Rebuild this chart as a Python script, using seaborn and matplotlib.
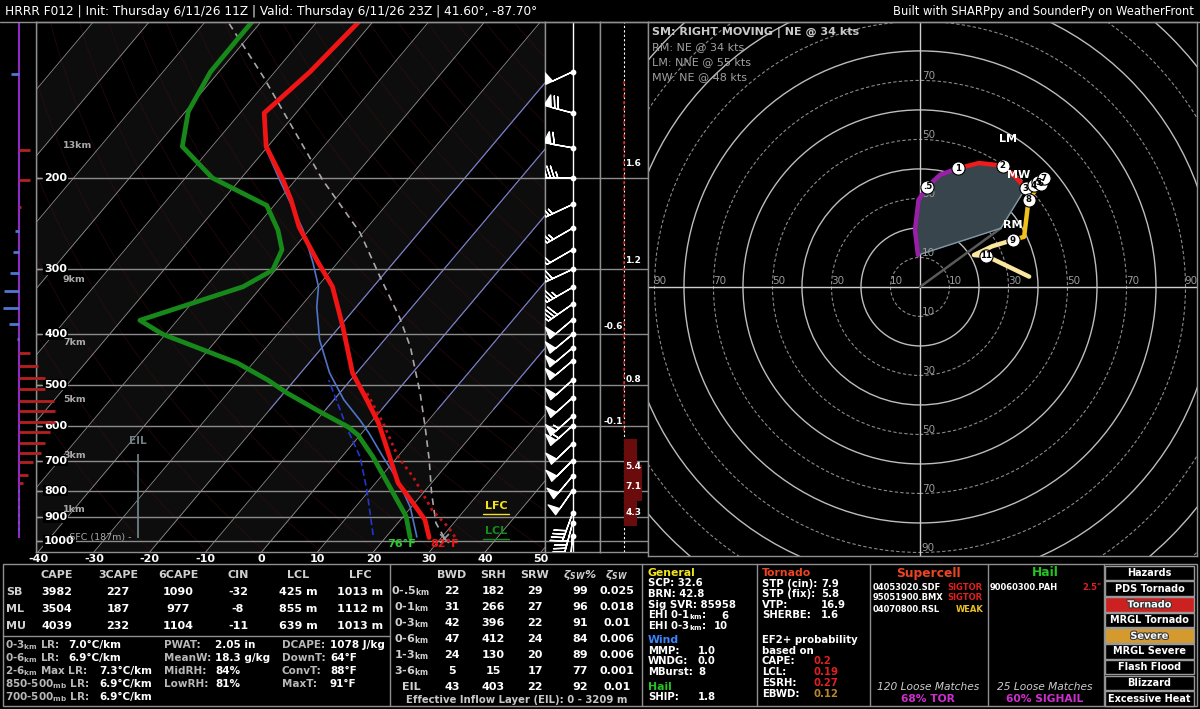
import numpy as np
import pandas as pd
import seaborn as sns
import matplotlib.pyplot as plt
import matplotlib.patheffects as pe
from matplotlib.patches import Rectangle, Circle
from matplotlib.ticker import NullLocator

# ---------------- header ----------------
title_left = "HRRR F012 | Init: Thursday 6/11/26 11Z | Valid: Thursday 6/11/26 23Z | 41.60°, -87.70°"
title_right = "Built with SHARPpy and SounderPy on WeatherFront"

# ---------------- sounding profiles (hPa, degC) ----------------
temp_p = [985, 911, 845, 773, 730, 689, 593, 535, 475, 387, 324, 288, 249, 220, 202, 174, 150, 125, 100]
temp_c = [27.8, 24.4, 19.7, 14.0, 11.3, 8.6, 1.5, -4.1, -10.7, -19.4, -27.3, -34.1, -42.2, -47.9, -52.2,
          -60.3, -65.7, -63.7, -62.5]

dwpt_p = [985, 895, 815, 746, 689, 625, 603, 565, 519, 490, 454, 400, 376, 324, 301, 275, 252, 226, 200,
          174, 149, 125, 107, 100]
dwpt_c = [24.4, 20.4, 15.1, 10.1, 5.6, -0.4, -3.4, -10.5, -19.4, -24.8, -32.9, -50.5, -56.7, -43.3, -40.5,
          -41.9, -45.6, -51.3, -65.2, -75.3, -79.5, -81.5, -81.6, -81.6]

wetb_p = [982, 860, 763, 689, 620, 585, 535, 475, 410, 354, 324, 292, 252, 202, 174]
wetb_c = [25.5, 19.8, 13.5, 7.4, 1.3, -2.3, -8.2, -14.8, -21.6, -27.1, -29.8, -34.3, -41.1, -52.8, -60.5]

ddraft_p = [974, 798, 689, 611, 490]
ddraft_c = [17.4, 9.5, 3.3, -3.0, -13.9]

parcel_p = [985, 923, 808, 698, 603, 519, 423, 371, 310, 255, 202, 153, 128, 101]
parcel_c = [30.5, 26.8, 21.5, 16.1, 10.4, 4.4, -4.3, -10.7, -20.3, -30.5, -45.1, -61.0, -71.2, -85.4]

virt_p = [982, 940, 872, 753, 689, 593, 519]
virt_c = [32.3, 29.6, 24.2, 15.8, 10.1, 2.3, -5.1]

sfc_p = 985
sfc_t_label, sfc_td_label = "82°F", "76°F"
eil_top_p = 680
height_labels = ["1km", "3km", "5km", "7km", "9km", "13km"]
height_p = [871, 686, 533, 414, 314, 173]
press_labels = [200, 300, 400, 500, 600, 700, 800, 900, 1000]

# wind barbs
barb_p = [125, 150, 175, 200, 225, 250, 275, 300, 325, 350, 375, 400, 425, 450, 490, 530, 575, 600,
          650, 700, 750, 800, 885, 925, 980]
barb_dir = [245, 285, 280, 270, 245, 240, 240, 245, 240, 235, 230, 230, 230, 230, 228, 228, 228, 228,
            226, 225, 220, 215, 200, 195, 185]
barb_spd = [50, 70, 60, 45, 25, 25, 20, 30, 35, 40, 50, 50, 50, 50, 50, 50, 55, 55,
            50, 50, 50, 50, 40, 35, 30]

# left strip bars
adv_p = [126, 177, 202, 228, 253, 278, 305, 330, 356, 382, 409, 435, 460, 486, 510, 538, 562, 590,
         617, 648, 677, 705, 746, 773, 800, 830, 860, 890, 920, 950]
adv_v = [-0.77, 1.05, 1.05, 0.2, -0.45, -0.6, -0.87, -1.46, -1.57, -1.05, -0.2, 1.05, 1.9, 2.6, 2.6,
         3.5, 3.6, 3.6, 3.1, 2.6, 2.2, 1.4, 0.9, 0.35, -0.1, -0.15, -0.1, -0.15, -0.1, -0.1]

# narrow value column
nv_p = [188, 289, 387, 488, 590, 720, 787, 883]
nv_val = ["1.6", "1.2", "-0.6", "0.8", "-0.1", "5.4", "7.1", "4.3"]
red_top_p, red_bot_p = 130, 622
dark_p = [650, 675, 700, 725, 750, 775, 800, 825, 850, 875, 900, 925]
dark_v = [1.27, 1.27, 1.27, 1.77, 1.77, 1.77, 1.77, 1.77, 1.27, 1.27, 1.27, 1.27]

# hodograph (km, kt)
hodo_h = [0, 0.15, 0.35, 0.5, 0.75, 1, 1.5, 2, 2.5, 3, 4, 5, 6, 7, 8, 8.5, 9, 10, 10.5, 11, 12]
hodo_u = [-0.7, -1.7, -0.5, 2.5, 6.8, 12.8, 20.0, 28.0, 32.2, 35.8, 38.5, 40.0, 41.0, 41.9, 36.8, 35.3,
          31.5, 24.5, 18.3, 22.5, 37.0]
hodo_v = [10.8, 19.3, 29.5, 34.0, 38.0, 40.2, 42.0, 41.1, 37.4, 33.5, 34.5, 35.5, 35.0, 36.8, 29.5, 17.0,
          15.9, 13.8, 10.8, 10.5, 3.5]
marker_h = [0.5, 1, 2, 3, 4, 5, 6, 7, 8, 9, 11]
marker_txt = [".5", "1", "2", "3", "4", "5", "6", "7", "8", "9", "11"]
rm_uv, lm_uv, mw_uv = (27.4, 19.9), (27.0, 48.0), (36.0, 32.0)
hodo_head = "SM: RIGHT MOVING | NE @ 34 kts"
hodo_info = ["RM: NE @ 34 kts", "LM: NNE @ 55 kts", "MW: NE @ 48 kts"]

# thermo table
thermo_cols = ["CAPE", "3CAPE", "6CAPE", "CIN", "LCL", "LFC"]
thermo_rows = ["SB", "ML", "MU"]
cape = [3982, 3504, 4039]
cape3 = [227, 187, 232]
cape6 = [1090, 977, 1104]
cin = [-32, -8, -11]
lcl_m = [425, 855, 639]
lfc_m = [1013, 1112, 1013]
lr_labels = ["0-3$_{km}$ LR:", "0-6$_{km}$ LR:", "2-6$_{km}$ Max LR:", "850-500$_{mb}$ LR:", "700-500$_{mb}$ LR:"]
lr_vals = ["7.0°C/km", "6.9°C/km", "7.3°C/km", "6.9°C/km", "6.9°C/km"]
mid_labels = ["PWAT:", "MeanW:", "MidRH:", "LowRH:"]
mid_vals = ["2.05 in", "18.3 g/kg", "84%", "81%"]
rt_labels = ["DCAPE:", "DownT:", "ConvT:", "MaxT:"]
rt_vals = ["1078 J/kg", "64°F", "88°F", "91°F"]

# kinematic table
kin_cols = ["BWD", "SRH", "SRW", "ζ$_{SW}$%", "ζ$_{SW}$"]
kin_rows = ["0-.5$_{km}$", "0-1$_{km}$", "0-3$_{km}$", "0-6$_{km}$", "1-3$_{km}$", "3-6$_{km}$", "EIL"]
bwd = [22, 31, 42, 47, 24, 5, 43]
srh = [182, 266, 396, 412, 130, 15, 403]
srw = [29, 27, 22, 24, 20, 17, 22]
zeta_pct = [99, 96, 91, 84, 89, 77, 92]
zeta = ["0.025", "0.018", "0.01", "0.006", "0.006", "0.001", "0.01"]
eil_text = "Effective Inflow Layer (EIL): 0 - 3209 m"

# indices
general = [("SCP: 32.6", ""), ("BRN: 42.8", ""), ("Sig SVR: 85958", ""),
           ("EHI 0-1$_{km}$:", "6"), ("EHI 0-3$_{km}$:", "10")]
wind = [("MMP:", "1.0"), ("WNDG:", "0.0"), ("MBurst:", "8")]
hail_idx = [("SHIP:", "1.8")]
tor_idx = [("STP (cin):", "7.9"), ("STP (fix):", "5.8"), ("VTP:", "16.9"), ("SHERBE:", "1.6")]
ef_labels = ["CAPE:", "LCL:", "ESRH:", "EBWD:"]
ef_vals = ["0.2", "0.19", "0.27", "0.12"]
sc_matches = ["04053020.SDF", "95051900.BMX", "04070800.RSL"]
sc_tags = ["SIGTOR", "SIGTOR", "WEAK"]
hail_matches = ["90060300.PAH"]
hail_tags = ['2.5"']
hazards = ["Hazards", "PDS Tornado", "Tornado", "MRGL Tornado", "Severe", "MRGL Severe",
           "Flash Flood", "Blizzard", "Excessive Heat"]

# ---------------- style ----------------
sns.set_theme(style="dark", rc={"axes.facecolor": "black", "figure.facecolor": "black",
                                "axes.edgecolor": "#9a9a9a", "text.color": "white"})
plt.rcParams["font.family"] = ["DejaVu Sans"]
plt.rcParams["mathtext.default"] = "regular"
EDGE = "#8f8f8f"
LABEL = "#d0d0d0"

W, H = 1200, 709
fig = plt.figure(figsize=(W / 100, H / 100), dpi=100, facecolor="black")


def panel(x0, y0, x1, y1, **kw):
    a = fig.add_axes([x0 / W, 1 - y1 / H, (x1 - x0) / W, (y1 - y0) / H], **kw)
    a.set_facecolor("black")
    for s in a.spines.values():
        s.set_color(EDGE)
        s.set_linewidth(1)
    return a


SKEW = 34.0
P_BOT, P_TOP = 1050, 100


def skx(t, p):
    return np.asarray(t, float) + SKEW * np.log(P_BOT / np.asarray(p, float))


def logp_axis(a):
    a.set_yscale("log")
    a.set_ylim(P_BOT, P_TOP)
    a.set_yticks([])
    a.yaxis.set_minor_locator(NullLocator())
    a.set_ylabel("")


# ---------------- skew-T ----------------
ax = panel(36, 21.5, 545, 552)
logp_axis(ax)
pp = np.geomspace(P_TOP, P_BOT, 150)
for t0 in range(-150, 60, 20):
    ax.fill_betweenx(pp, skx(t0, pp), skx(t0 + 10, pp), color="#0d0d0d", lw=0, zorder=0)
for th in range(250, 480, 10):
    ax.plot(skx(th * (pp / 1000) ** 0.2857 - 273.15, pp), pp, color="#3a0e0e", lw=0.6, alpha=0.6, zorder=0.5)
for t0 in range(-150, 60, 10):
    ax.plot(skx(t0, pp), pp, color="white", lw=0.6, alpha=0.55, zorder=1)
    if -20 <= t0 <= 20:
        up = pp[pp <= 560]
        ax.plot(skx(t0, up), up, color="#7276c8", lw=0.8, zorder=1.1)
for p in press_labels:
    ax.axhline(p, color="#8c8c8c", lw=1, zorder=2)


def trace(p, t, **kw):
    df = pd.DataFrame({"x": skx(t, p), "p": p})
    sns.lineplot(data=df, x="x", y="p", sort=False, estimator=None, ax=ax, legend=False, **kw)


trace(parcel_p, parcel_c, color="#a8a8a8", lw=1.2, ls=(0, (4, 3)), zorder=3)
trace(virt_p, virt_c, color="#c41414", lw=2, ls=(0, (1, 1.5)), zorder=3)
trace(ddraft_p, ddraft_c, color="#2236d0", lw=1.2, ls=(0, (4, 2)), zorder=3)
trace(wetb_p, wetb_c, color="#4f74c8", lw=1.2, zorder=4)
trace(dwpt_p, dwpt_c, color="#17891a", lw=3.4, zorder=5)
trace(temp_p, temp_c, color="#f01414", lw=3.4, zorder=6)
ax.scatter(skx(parcel_c[0], parcel_p[0]), parcel_p[0], marker="x", color="#9a9a9a", s=40, lw=1.2, zorder=7)

ax.set_xlim(-40.36, 50.7)
ax.set_ylim(P_BOT, P_TOP)
ax.set_xlabel("")
ax.set_ylabel("")
ax.set_xticks(range(-40, 60, 10))
ax.set_xticklabels([str(t) for t in range(-40, 60, 10)])
ax.tick_params(axis="x", colors="white", labelsize=8, length=0, pad=1.5)
for lab in ax.get_xticklabels():
    lab.set_fontweight("bold")

ytr = ax.get_yaxis_transform()
for p in press_labels:
    ax.text(0.016, p, str(p), transform=ytr, ha="left", va="center", color="white", fontsize=8,
            fontweight="bold", zorder=8, bbox=dict(facecolor="black", edgecolor="none", pad=0.6))
    ax.plot([0, 0.01], [p, p], transform=ytr, color="#9a9a9a", lw=1, zorder=8)
for s, p in zip(height_labels, height_p):
    ax.text(0.053, p, s, transform=ytr, ha="left", va="center", color="#a9a9a9", fontsize=6.8,
            fontweight="bold", zorder=8)
ax.text(0.058, sfc_p, "-SFC (187m) -", transform=ytr, ha="left", va="center", color="#a9a9a9",
        fontsize=6.8, zorder=8)
ax.vlines(0.2, eil_top_p, sfc_p, transform=ytr, color="#6f7f86", lw=1.3, zorder=8)
ax.text(0.2, eil_top_p * 0.965, "EIL", transform=ytr, ha="center", va="bottom", color="#6f7f86",
        fontsize=7.5, fontweight="bold", zorder=8)
ax.text(0.904, 856, "LFC", transform=ytr, ha="center", va="center", color="#f2e41c", fontsize=8,
        fontweight="bold", zorder=8)
ax.plot([0.878, 0.93], [886, 886], transform=ytr, color="#f2e41c", lw=1, zorder=8)
ax.text(0.904, 957, "LCL", transform=ytr, ha="center", va="center", color="#178a1a", fontsize=8,
        fontweight="bold", zorder=8)
ax.plot([0.878, 0.93], [990, 990], transform=ytr, color="#178a1a", lw=1, zorder=8)
ax.text(skx(dwpt_c[0], sfc_p) + 1.0, 1012, sfc_td_label, ha="right", va="center", color="#2ecc2e",
        fontsize=8, fontweight="bold", zorder=8)
ax.text(skx(temp_c[0], sfc_p) + 0.2, 1012, sfc_t_label, ha="left", va="center", color="#f01414",
        fontsize=8, fontweight="bold", zorder=8)

# ---------------- left strip ----------------
lx = panel(0, 21.5, 36, 552, zorder=5)
logp_axis(lx)
lx.set_xlim(-1.9, 1.7)
lx.set_xticks([])
for k in ["left", "top", "bottom"]:
    lx.spines[k].set_visible(False)
lx.vlines(0, sfc_p, P_TOP, color="#8e2bc4", lw=1.5)
bar_cols = ["#b52020" if v > 0 else "#4f78d0" for v in adv_v]
lx.hlines(adv_p, 0, adv_v, colors=bar_cols, lw=2, clip_on=False, zorder=6)

# ---------------- barbs ----------------
bx = panel(545, 21.5, 600, 552)
logp_axis(bx)
bx.set_xlim(-1, 1)
bx.set_xticks([])
for p in press_labels:
    bx.axhline(p, color="#8c8c8c", lw=1)
bx.axvline(0, color="white", lw=1)
bd = np.deg2rad(barb_dir)
bs = np.asarray(barb_spd, float)
bx.barbs(np.zeros(len(barb_p)), barb_p, -bs * np.sin(bd), -bs * np.cos(bd), length=6.5,
         color="white", lw=1, pivot="tip", zorder=4)
bx.scatter(np.zeros(len(barb_p)), barb_p, s=10, color="white", zorder=5)

# ---------------- narrow value column ----------------
nx = panel(600, 21.5, 648, 552)
logp_axis(nx)
nx.set_xlim(-2.4, 2.4)
nx.set_xticks([])
for p in press_labels:
    nx.axhline(p, color="#8c8c8c", lw=1)
nx.axvline(0, color="white", lw=0.8, ls=(0, (2, 2)))
nx.vlines(0, red_top_p, red_bot_p, colors="#c01818", lw=1.2, ls=(0, (2, 2)), zorder=3)
nx.barh(dark_p, dark_v, height=25, left=0, color="#6b0c0c", edgecolor="none", lw=0, zorder=2)
for p, v in zip(nv_p, nv_val):
    neg = v.startswith("-")
    nx.text(-0.15 if neg else 0.15, p, v, ha="right" if neg else "left", va="center", color="white",
            fontsize=6.5, fontweight="bold", zorder=4)

# ---------------- hodograph ----------------
hx = panel(648, 22, 1197, 556)
hx.set_xlim(-92.2, 93.9)
hx.set_ylim(-91.2, 89.8)
hx.set_xticks([])
hx.set_yticks([])
for r in range(10, 140, 10):
    if r % 20 == 0:
        hx.add_patch(Circle((0, 0), r, fill=False, ec="#bdbdbd", lw=1))
    else:
        hx.add_patch(Circle((0, 0), r, fill=False, ec="#8a8a8a", lw=0.8, ls=(0, (3, 2))))
hx.axhline(0, color="#cfcfcf", lw=1)
hx.axvline(0, color="#cfcfcf", lw=1)
for r in range(10, 100, 20):
    for sgn in (1, -1):
        hx.text(sgn * r + 2, 0.4, str(r), ha="center", va="bottom", color="#9a9a9a", fontsize=7.5,
                clip_on=True)
        if sgn * r + 3 < 89:
            hx.text(2.8, sgn * r + 1.5, str(r), ha="center", va="center", color="#9a9a9a", fontsize=7.5,
                    clip_on=True)

hd = pd.DataFrame({"h": hodo_h, "u": hodo_u, "v": hodo_v})
low = hd[hd.h <= 3]
hx.fill(np.r_[rm_uv[0], low.u], np.r_[rm_uv[1], low.v], color="#38454d", zorder=2)
hx.plot([0, rm_uv[0]], [0, rm_uv[1]], color="#5a5a5a", lw=1.8, zorder=2)
hx.plot([rm_uv[0], low.u.iloc[0]], [rm_uv[1], low.v.iloc[0]], color="#7f98a6", lw=1, zorder=2)
hx.plot([rm_uv[0], low.u.iloc[-1]], [rm_uv[1], low.v.iloc[-1]], color="#7f98a6", lw=1, zorder=2)
bands = [(0, 1, "#9a1fa8"), (1, 3, "#ee1c1c"), (3, 6, "#ee7a1a"), (6, 9, "#f2c21c"), (9, 12, "#fbe6a0")]
for lo, hi, col in bands:
    seg = hd[(hd.h >= lo) & (hd.h <= hi)]
    sns.lineplot(data=seg, x="u", y="v", sort=False, estimator=None, ax=hx, color=col, lw=3.2,
                 legend=False, zorder=3)
mk = hd[hd.h.isin(marker_h)]
hx.scatter(mk.u, mk.v, s=90, color="white", edgecolor="black", lw=0.8, zorder=5)
for (_, r), t in zip(mk.iterrows(), marker_txt):
    hx.text(r.u, r.v, t, ha="center", va="center", color="black", fontsize=6.2, fontweight="bold", zorder=6)
hx.text(lm_uv[0] + 3, lm_uv[1] + 2, "LM", ha="center", va="center", color="white", fontsize=8,
        fontweight="bold", zorder=6)
hx.text(rm_uv[0] + 4, rm_uv[1] + 1, "RM", ha="center", va="center", color="white", fontsize=8,
        fontweight="bold", zorder=6)
hx.text(mw_uv[0] - 2.5, mw_uv[1] + 6, "MW", ha="center", va="center", color="white", fontsize=8,
        fontweight="bold", zorder=6)
hx.set_xlabel("")
hx.set_ylabel("")
hx.set_xlim(-92.2, 93.9)
hx.set_ylim(-91.2, 89.8)

# ---------------- overlay text / tables ----------------
ov = fig.add_axes([0, 0, 1, 1], zorder=10)
ov.set_xlim(0, W)
ov.set_ylim(H, 0)
ov.axis("off")
ov.patch.set_visible(False)


def put(x, y, s, color="white", size=8, weight="bold", ha="left", style="normal", **kw):
    return ov.text(x, y, s, color=color, fontsize=size, fontweight=weight, ha=ha, va="center",
                   fontstyle=style, **kw)


put(5, 11, title_left, size=8.7, weight="normal")
put(1194, 11, title_right, size=8.3, weight="normal", ha="right")
ov.plot([0, W], [21.5, 21.5], color=EDGE, lw=1)

put(652, 32, hodo_head, color="#c8c8c8", size=8)
for i, s in enumerate(hodo_info):
    put(652, 47 + 15 * i, s, color="#a0a0a0", size=8, weight="normal")

# frames
ov.add_patch(Rectangle((3, 564), 1194, 142, fill=False, ec=EDGE, lw=1))
for xs in [390, 642, 757, 870, 988, 1104]:
    ov.plot([xs, xs], [564, 706], color=EDGE, lw=1)
ov.plot([3, 390], [636, 636], color=EDGE, lw=1)

# thermo table
col_x = [57, 118, 178, 238, 298, 360]
for cx, name in zip(col_x, thermo_cols):
    put(cx, 575, name, color=LABEL, ha="center")
for i, row in enumerate(thermo_rows):
    y = 592 + 17 * i
    put(6, y, row, color=LABEL)
    vals = [cape[i], cape3[i], cape6[i], cin[i], f"{lcl_m[i]} m", f"{lfc_m[i]} m"]
    for cx, v in zip(col_x, vals):
        put(cx, y, str(v), ha="center")
lr_x = [68, 68, 99, 99, 99]
for i, (lab, val) in enumerate(zip(lr_labels, lr_vals)):
    y = 645 + 13 * i
    put(5, y, lab, color="#b8b8b8", size=7.5)
    put(lr_x[i], y, val, size=7.5)
for i, (lab, val) in enumerate(zip(mid_labels, mid_vals)):
    put(164, 645 + 13 * i, lab, color="#b8b8b8", size=7.5)
    put(215, 645 + 13 * i, val, size=7.5)
for i, (lab, val) in enumerate(zip(rt_labels, rt_vals)):
    put(282, 645 + 13 * i, lab, color="#b8b8b8", size=7.5)
    put(330, 645 + 13 * i, val, size=7.5)

# kinematic table
kin_x = [452, 493, 535, 580, 617]
for cx, name in zip(kin_x, kin_cols):
    put(cx, 575, name, color=LABEL, ha="center", style="italic" if "ζ" in name else "normal")
for i, row in enumerate(kin_rows):
    y = 591 + 16 * i
    put(411, y, row, color=LABEL, ha="center")
    for cx, v in zip(kin_x, [bwd[i], srh[i], srw[i], zeta_pct[i], zeta[i]]):
        put(cx, y, str(v), ha="center")
put(517, 700, eil_text, color="#c8c8c8", size=7.3, ha="center")

# general / wind / hail
put(648, 573, "General", color="#f2e41c", size=7.8)
for i, (lab, val) in enumerate(general):
    y = 583.5 + 10.7 * i
    put(648, y, lab, size=7.3)
    if val:
        put(728, y, val, size=7.3, ha="right")
put(648, 640, "Wind", color="#3a86ff", size=7.8)
for i, (lab, val) in enumerate(wind):
    put(648, 651 + 10.5 * i, lab, size=7.3)
    put(698, 651 + 10.5 * i, val, size=7.3)
put(648, 687, "Hail", color="#22c422", size=7.8)
put(648, 697.5, hail_idx[0][0], size=7.3)
put(698, 697.5, hail_idx[0][1], size=7.3)

# tornado
put(762, 573, "Tornado", color="#ee4422", size=7.8)
for i, (lab, val) in enumerate(tor_idx):
    put(762, 584 + 10.4 * i, lab, size=7.3)
    put(821, 584 + 10.4 * i, val, size=7.3)
put(762, 640, "EF2+ probability", size=7.3)
put(762, 651, "based on", size=7.3)
ef_cols = ["#e02020", "#e02020", "#e02020", "#b8862b"]
for i, (lab, val) in enumerate(zip(ef_labels, ef_vals)):
    put(762, 661.5 + 10.8 * i, lab, size=7.3)
    put(813, 661.5 + 10.8 * i, val, color=ef_cols[i], size=7.3)

# supercell / hail analogs
put(928, 573, "Supercell", color="#ee4422", size=8.8, ha="center")
tag_cols = {"SIGTOR": "#e02020", "WEAK": "#e8c020"}
for i, (m, t) in enumerate(zip(sc_matches, sc_tags)):
    put(873, 587 + 11 * i, m, size=6)
    put(983, 587 + 11 * i, t, color=tag_cols[t], size=6, ha="right")
put(928, 687, "120 Loose Matches", color="#cccccc", size=7.7, weight="normal", ha="center", style="italic")
put(928, 699, "68% TOR", color="#cf2fcf", size=7.7, ha="center")
put(1045, 573, "Hail", color="#22c422", size=8.8, ha="center")
for i, (m, t) in enumerate(zip(hail_matches, hail_tags)):
    put(990, 587 + 11 * i, m, size=6)
    put(1102, 587 + 11 * i, t, color="#e02020", size=6, ha="right")
put(1045, 687, "25 Loose Matches", color="#cccccc", size=7.7, weight="normal", ha="center", style="italic")
put(1045, 699, "60% SIGHAIL", color="#cf2fcf", size=7.7, ha="center")

# hazards
hz_fill = {"Tornado": "#cc2121", "Severe": "#d49a2e"}
for i, name in enumerate(hazards):
    y0 = 565 + 15.7 * i
    ov.add_patch(Rectangle((1105, y0 + 0.6), 89, 14.5, facecolor=hz_fill.get(name, "black"),
                           edgecolor="#9a9a9a", lw=1))
    t = put(1149.5, y0 + 8, name, size=7, ha="center")
    if name in hz_fill:
        t.set_path_effects([pe.withStroke(linewidth=1.6, foreground="#3a3a3a")])

fig.savefig("out.png", dpi=100, facecolor="black")
